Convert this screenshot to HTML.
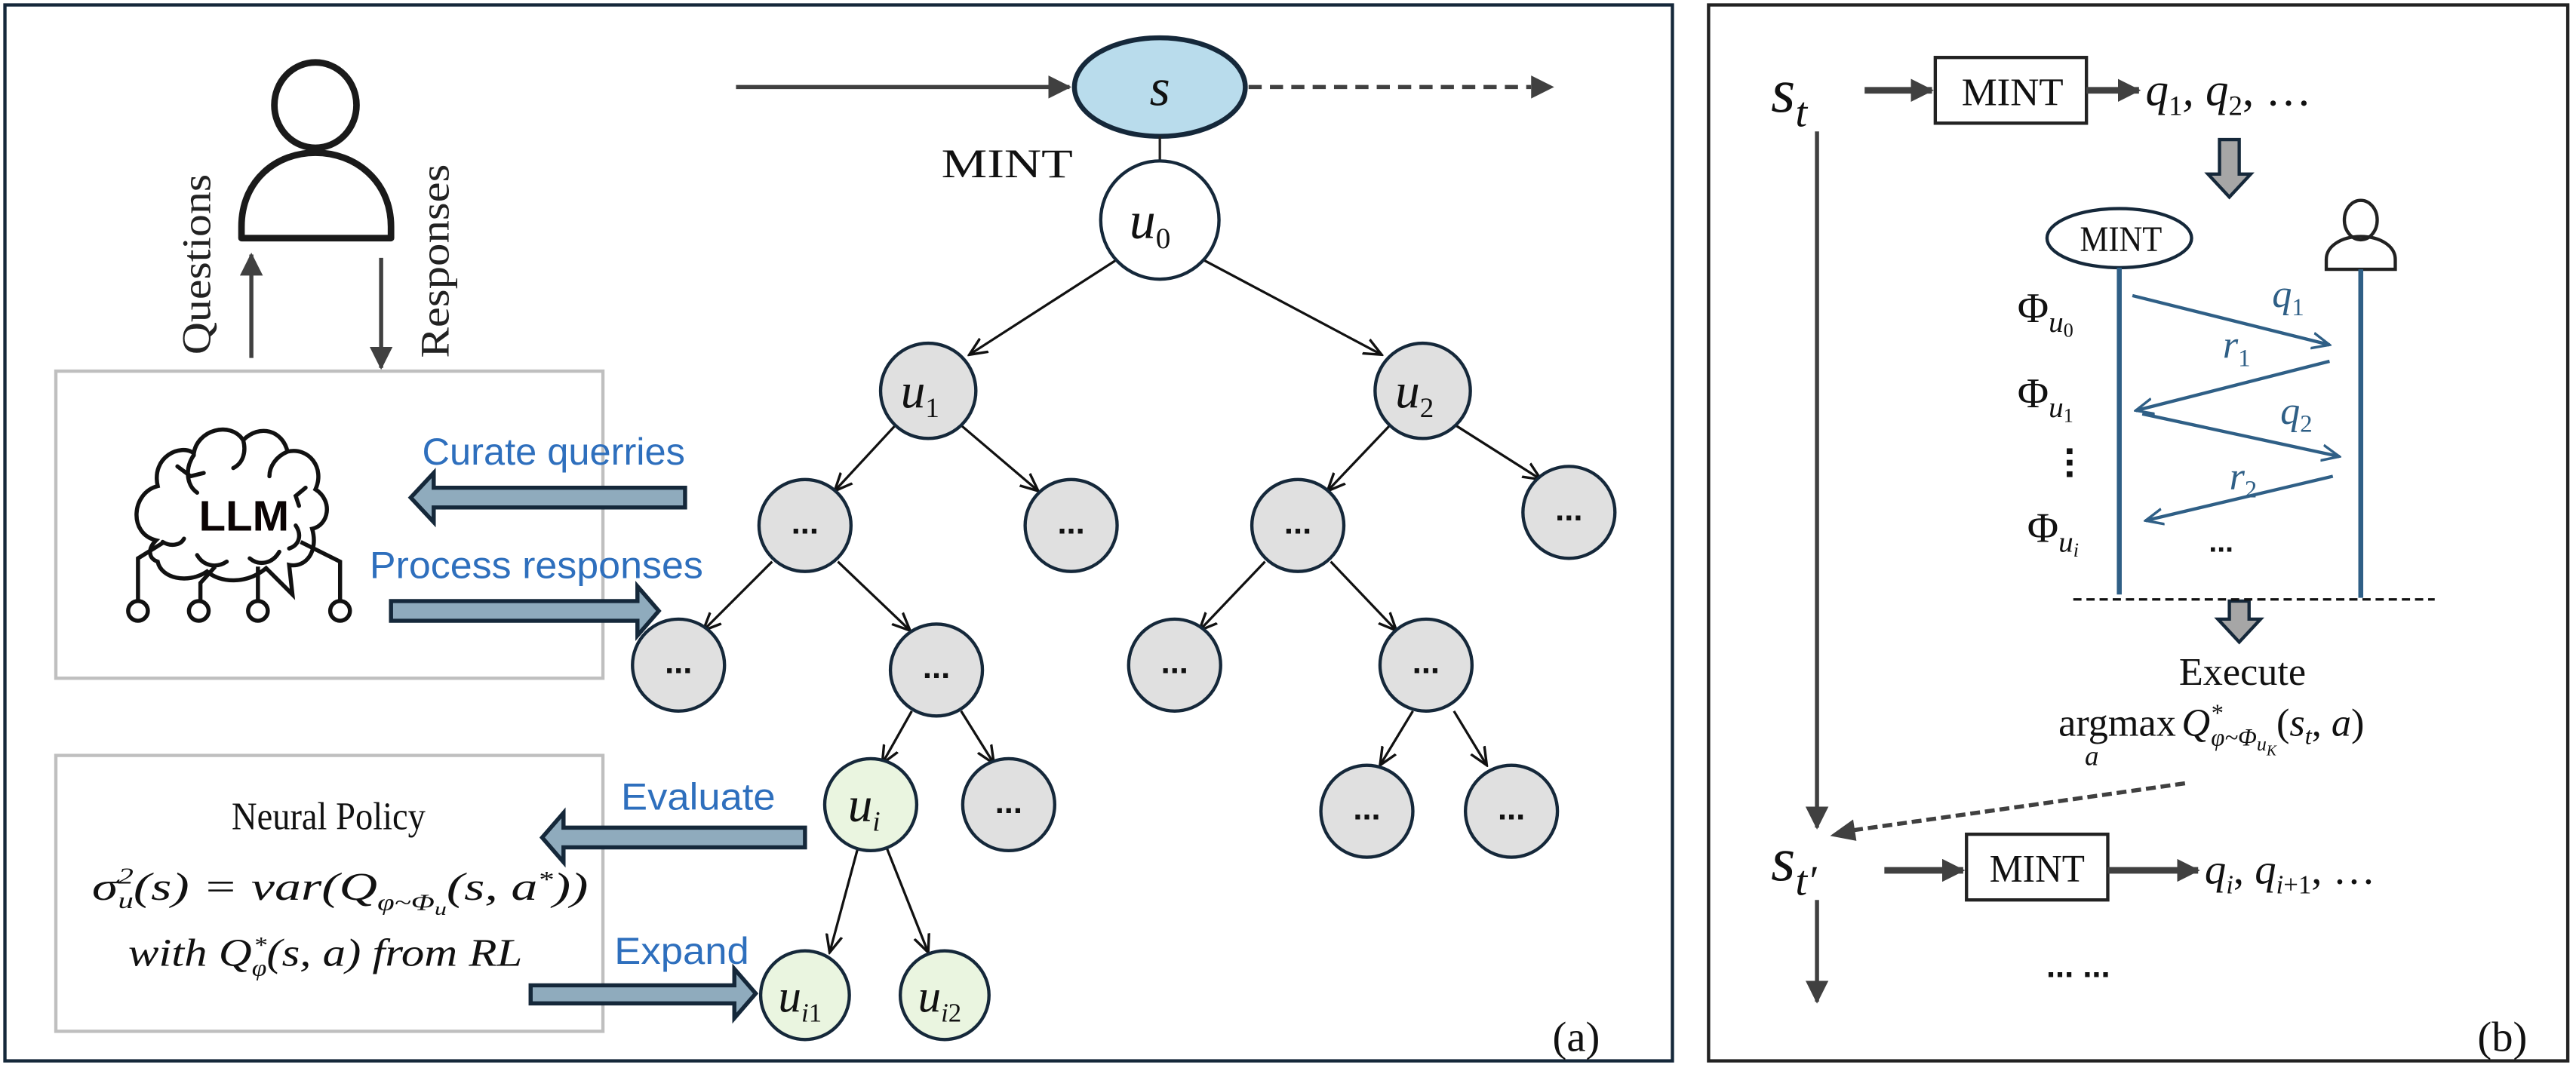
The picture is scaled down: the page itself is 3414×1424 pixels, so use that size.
<!DOCTYPE html>
<html><head><meta charset="utf-8"><style>
html,body{margin:0;padding:0;background:#fff;}
svg{display:block;}
.serif{font-family:"Liberation Serif","DejaVu Serif",serif;}
.it{font-family:"Liberation Serif","DejaVu Serif",serif;font-style:italic;}
.blue{font-family:"Liberation Sans","DejaVu Sans",sans-serif;fill:#2e6fbd;}
</style></head><body>
<svg width="3414" height="1424" viewBox="0 0 1568 654" preserveAspectRatio="none" xmlns="http://www.w3.org/2000/svg">
<defs>
<marker id="ahb" viewBox="0 0 12 12" refX="11" refY="6" markerWidth="14" markerHeight="14" orient="auto" markerUnits="userSpaceOnUse"><path d="M0,0 L12,6 L0,12 z" fill="#404040"/></marker>
<marker id="ahs" viewBox="0 0 10 10" refX="9" refY="5" markerWidth="12" markerHeight="12" orient="auto" markerUnits="userSpaceOnUse"><path d="M0,1 L9,5 L0,9" fill="none" stroke="#111" stroke-width="1.3"/></marker>
<marker id="ahl" viewBox="0 0 10 10" refX="9" refY="5" markerWidth="12" markerHeight="12" orient="auto" markerUnits="userSpaceOnUse"><path d="M0,1 L9,5 L0,9" fill="none" stroke="#2f5f86" stroke-width="1.3"/></marker>
</defs>
<rect width="1568" height="654" fill="#fff"/>
<rect x="3" y="3" width="1015" height="643" fill="none" stroke="#15283a" stroke-width="2"/>
<rect x="1040" y="3" width="523" height="643" fill="none" stroke="#222" stroke-width="2"/>

<!-- person -->
<ellipse cx="192" cy="64" rx="25" ry="26" fill="none" stroke="#1a1a1a" stroke-width="4"/>
<path d="M147,145 L147,138 C147,110 168,93 192,93 C216,93 238,110 238,138 L238,145 Z" fill="none" stroke="#1a1a1a" stroke-width="4" stroke-linejoin="round"/>
<line x1="153" y1="218" x2="153" y2="155" stroke="#404040" stroke-width="2.5" marker-end="url(#ahb)"/>
<line x1="232" y1="157" x2="232" y2="224" stroke="#404040" stroke-width="2.5" marker-end="url(#ahb)"/>
<text class="serif" font-size="25" transform="translate(128,216) rotate(-90)" textLength="110" lengthAdjust="spacingAndGlyphs" fill="#222">Questions</text>
<text class="serif" font-size="25" transform="translate(273,218) rotate(-90)" textLength="118" lengthAdjust="spacingAndGlyphs" fill="#222">Responses</text>

<rect x="34" y="226" width="333" height="187" fill="none" stroke="#bfbfbf" stroke-width="2"/>
<g fill="none" stroke="#111" stroke-width="2.5" stroke-linecap="round">
<path d="M95,329 C78,325 80,300 96,296 C92,278 110,270 118,276 C120,262 140,256 148,268 C158,258 172,262 175,275 C188,272 198,285 192,298 C203,305 200,320 190,322 C194,336 186,346 176,344 L178,362 L162,346 C150,356 134,355 126,348 C114,356 98,352 96,342 C90,340 90,334 95,329 Z"/>
<path d="M118,277 C112,286 114,296 120,300"/>
<path d="M148,268 C150,275 148,282 142,285"/>
<path d="M175,275 C168,278 164,284 164,290"/>
<path d="M108,284 L116,290 L124,288"/>
<path d="M186,297 L180,302 L182,308"/>
<path d="M120,338 C124,345 132,346 138,342"/>
<path d="M152,340 C158,345 166,343 170,336"/>
<path d="M180,320 C184,326 182,332 176,334"/>
<path d="M99,330 C104,333 110,332 112,328"/>
</g>
<text x="121" y="323" font-family="Liberation Sans,DejaVu Sans,sans-serif" font-weight="bold" font-size="26" fill="#0b0404" textLength="55" lengthAdjust="spacingAndGlyphs">LLM</text>
<g fill="none" stroke="#111" stroke-width="2.5">
<polyline points="100,330 84,340 84,366"/>
<polyline points="131,345 122,355 122,366"/>
<line x1="157" y1="345" x2="157" y2="366"/>
<polyline points="183,330 207,342 207,366"/>
<circle cx="84" cy="372" r="6"/><circle cx="121" cy="372" r="6"/><circle cx="157" cy="372" r="6"/><circle cx="207" cy="372" r="6"/>
</g>

<rect x="34" y="460" width="333" height="168" fill="none" stroke="#bfbfbf" stroke-width="2"/>
<text class="serif" x="141" y="505" font-size="24" fill="#111" textLength="118" lengthAdjust="spacingAndGlyphs">Neural Policy</text>
<text class="it" x="56" y="548" font-size="24" fill="#111" textLength="302" lengthAdjust="spacingAndGlyphs">σ<tspan font-size="14" dy="5">u</tspan><tspan font-size="14" dx="-7" dy="-15">2</tspan><tspan dy="10">(s) = var(Q</tspan><tspan font-size="14" dy="6">φ~Φ</tspan><tspan font-size="11" dy="3">u</tspan><tspan dy="-9">(s, a</tspan><tspan font-size="14" dy="-8">*</tspan><tspan dy="8">))</tspan></text>
<text class="it" x="78" y="588" font-size="24" fill="#111" textLength="240" lengthAdjust="spacingAndGlyphs">with Q<tspan font-size="14" dy="6">φ</tspan><tspan font-size="14" dx="-7" dy="-14">*</tspan><tspan dy="8">(s, a) from RL</tspan></text>

<g fill="#8fabbd" stroke="#15283a" stroke-width="2.5">
<path d="M417,297 L264,297 L264,288 L250,303 L264,318 L264,309 L417,309 Z"/>
<path d="M238,366 L388,366 L388,357 L401,372 L388,387 L388,378 L238,378 Z"/>
<path d="M490,504 L343,504 L343,495 L330,510 L343,525 L343,516 L490,516 Z"/>
<path d="M323,600 L447,600 L447,590 L460,605 L447,620 L447,611 L323,611 Z"/>
</g>
<text class="blue" x="257" y="283" font-size="23" textLength="160" lengthAdjust="spacingAndGlyphs">Curate querries</text>
<text class="blue" x="225" y="352" font-size="23" textLength="203" lengthAdjust="spacingAndGlyphs">Process responses</text>
<text class="blue" x="378" y="493" font-size="23" textLength="94" lengthAdjust="spacingAndGlyphs">Evaluate</text>
<text class="blue" x="374" y="587" font-size="23" textLength="82" lengthAdjust="spacingAndGlyphs">Expand</text>

<line x1="448" y1="53" x2="651" y2="53" stroke="#404040" stroke-width="2.5" marker-end="url(#ahb)"/>
<line x1="760" y1="53" x2="932" y2="53" stroke="#404040" stroke-width="2.5" stroke-dasharray="8,5"/>
<path d="M932,46 L946,53 L932,60 z" fill="#404040"/>
<ellipse cx="706" cy="53" rx="52" ry="30" fill="#b9dcec" stroke="#15283a" stroke-width="3"/>
<text class="it" x="706" y="64" font-size="32" text-anchor="middle" fill="#111">s</text>
<text class="serif" x="573" y="108" font-size="25" fill="#111" textLength="80" lengthAdjust="spacingAndGlyphs">MINT</text>
<line x1="706" y1="83" x2="706" y2="98" stroke="#222" stroke-width="1.5"/>

<g stroke="#111" stroke-width="1.5" marker-end="url(#ahs)">
<line x1="680" y1="158" x2="590" y2="216"/>
<line x1="732" y1="158" x2="841" y2="216"/>
<line x1="545" y1="259" x2="508" y2="299"/>
<line x1="585" y1="259" x2="632" y2="299"/>
<line x1="846" y1="259" x2="808" y2="299"/>
<line x1="886" y1="259" x2="938" y2="292"/>
<line x1="470" y1="342" x2="428" y2="384"/>
<line x1="510" y1="342" x2="554" y2="384"/>
<line x1="770" y1="342" x2="730" y2="384"/>
<line x1="810" y1="342" x2="850" y2="384"/>
<line x1="555" y1="433" x2="537" y2="465"/>
<line x1="585" y1="433" x2="605" y2="465"/>
<line x1="860" y1="433" x2="840" y2="466"/>
<line x1="885" y1="433" x2="905" y2="466"/>
<line x1="522" y1="517" x2="505" y2="580"/>
<line x1="540" y1="517" x2="565" y2="580"/>
</g>

<g stroke="#15283a" stroke-width="2">
<circle cx="706" cy="134" r="36" fill="#fff"/>
<circle cx="565" cy="238" r="29" fill="#e0e0e0"/>
<circle cx="866" cy="238" r="29" fill="#e0e0e0"/>
<circle cx="490" cy="320" r="28" fill="#e0e0e0"/>
<circle cx="652" cy="320" r="28" fill="#e0e0e0"/>
<circle cx="790" cy="320" r="28" fill="#e0e0e0"/>
<circle cx="955" cy="312" r="28" fill="#e0e0e0"/>
<circle cx="413" cy="405" r="28" fill="#e0e0e0"/>
<circle cx="570" cy="408" r="28" fill="#e0e0e0"/>
<circle cx="715" cy="405" r="28" fill="#e0e0e0"/>
<circle cx="868" cy="405" r="28" fill="#e0e0e0"/>
<circle cx="530" cy="490" r="28" fill="#eaf5e0"/>
<circle cx="614" cy="490" r="28" fill="#e0e0e0"/>
<circle cx="832" cy="494" r="28" fill="#e0e0e0"/>
<circle cx="920" cy="494" r="28" fill="#e0e0e0"/>
<circle cx="490" cy="606" r="27" fill="#eaf5e0"/>
<circle cx="575" cy="606" r="27" fill="#eaf5e0"/>
</g>
<g class="it" fill="#111" text-anchor="middle">
<text x="700" y="145" font-size="32">u<tspan font-size="18" font-style="normal" dy="6">0</tspan></text>
<text x="560" y="248" font-size="30">u<tspan font-size="17" font-style="normal" dy="6">1</tspan></text>
<text x="861" y="248" font-size="30">u<tspan font-size="17" font-style="normal" dy="6">2</tspan></text>
<text x="526" y="500" font-size="30">u<tspan font-size="17" dy="6">i</tspan></text>
<text x="487" y="616" font-size="28">u<tspan font-size="16" dy="6">i<tspan font-style="normal">1</tspan></tspan></text>
<text x="572" y="616" font-size="28">u<tspan font-size="16" dy="6">i<tspan font-style="normal">2</tspan></tspan></text>
</g>
<g font-family="Liberation Sans,DejaVu Sans,sans-serif" font-weight="bold" font-size="20" fill="#111" text-anchor="middle">
<text x="490" y="325">...</text><text x="652" y="325">...</text><text x="790" y="325">...</text><text x="955" y="317">...</text>
<text x="413" y="410">...</text><text x="570" y="413">...</text><text x="715" y="410">...</text><text x="868" y="410">...</text>
<text x="614" y="495">...</text><text x="832" y="499">...</text><text x="920" y="499">...</text>
</g>
<text class="serif" x="945" y="640" font-size="26" fill="#111">(a)</text>

<!-- right panel -->
<text class="it" x="1078" y="68" font-size="38" fill="#111">s<tspan font-size="26" dy="9">t</tspan></text>
<line x1="1135" y1="55" x2="1176" y2="55" stroke="#404040" stroke-width="4" marker-end="url(#ahb)"/>
<rect x="1178" y="35" width="92" height="40" fill="#fff" stroke="#222" stroke-width="2"/>
<text class="serif" x="1194" y="64" font-size="24" fill="#111" textLength="62" lengthAdjust="spacingAndGlyphs">MINT</text>
<line x1="1270" y1="55" x2="1302" y2="55" stroke="#404040" stroke-width="4" marker-end="url(#ahb)"/>
<text class="it" x="1306" y="64" font-size="28" fill="#111">q<tspan font-size="17" font-style="normal" dy="6">1</tspan><tspan dy="-6">, q</tspan><tspan font-size="17" font-style="normal" dy="6">2</tspan><tspan dy="-6" font-style="normal">, …</tspan></text>

<line x1="1106" y1="80" x2="1106" y2="504" stroke="#404040" stroke-width="2.5" marker-end="url(#ahb)"/>
<line x1="1106" y1="548" x2="1106" y2="610" stroke="#404040" stroke-width="2.5" marker-end="url(#ahb)"/>

<path d="M1351,85 L1363,85 L1363,106 L1370,106 L1357,120 L1344,106 L1351,106 Z" fill="#a6a6a6" stroke="#15283a" stroke-width="2"/>
<path d="M1357,366 L1369,366 L1369,377 L1376,377 L1363,391 L1350,377 L1357,377 Z" fill="#a6a6a6" stroke="#15283a" stroke-width="2"/>

<ellipse cx="1290" cy="145" rx="44" ry="18" fill="#fff" stroke="#15283a" stroke-width="2"/>
<text class="serif" x="1266" y="153" font-size="22" fill="#111" textLength="50" lengthAdjust="spacingAndGlyphs">MINT</text>
<line x1="1290" y1="163" x2="1290" y2="362" stroke="#2f5f86" stroke-width="3"/>
<ellipse cx="1437" cy="134" rx="10" ry="12" fill="none" stroke="#222" stroke-width="2"/>
<path d="M1416,164 L1416,158 C1416,150 1425,144 1437,144 C1449,144 1458,150 1458,158 L1458,164 Z" fill="none" stroke="#222" stroke-width="2"/>
<line x1="1437" y1="164" x2="1437" y2="364" stroke="#2f5f86" stroke-width="3"/>

<g stroke="#2f5f86" stroke-width="2" marker-end="url(#ahl)">
<line x1="1298" y1="180" x2="1418" y2="210"/>
<line x1="1418" y1="220" x2="1300" y2="250"/>
<line x1="1304" y1="252" x2="1424" y2="278"/>
<line x1="1420" y1="290" x2="1306" y2="317"/>
</g>
<g class="it" fill="#2f5f86" font-size="24">
<text x="1383" y="187">q<tspan font-size="15" font-style="normal" dy="5">1</tspan></text>
<text x="1353" y="218">r<tspan font-size="15" font-style="normal" dy="5">1</tspan></text>
<text x="1388" y="258">q<tspan font-size="15" font-style="normal" dy="5">2</tspan></text>
<text x="1357" y="298">r<tspan font-size="15" font-style="normal" dy="5">2</tspan></text>
</g>
<g class="serif" fill="#111" font-size="26">
<text x="1228" y="196">Φ<tspan class="it" font-size="18" dy="6">u</tspan><tspan font-size="12" dy="3">0</tspan></text>
<text x="1228" y="248">Φ<tspan class="it" font-size="18" dy="6">u</tspan><tspan font-size="12" dy="3">1</tspan></text>
<text x="1234" y="330">Φ<tspan class="it" font-size="18" dy="6">u</tspan><tspan class="it" font-size="12" dy="3">i</tspan></text>
</g>
<rect x="1258" y="273" width="3.5" height="3.5" fill="#111"/><rect x="1258" y="280" width="3.5" height="3.5" fill="#111"/><rect x="1258" y="287" width="3.5" height="3.5" fill="#111"/>
<text x="1352" y="336" font-family="Liberation Sans,sans-serif" font-weight="bold" font-size="18" fill="#111" text-anchor="middle">...</text>
<line x1="1262" y1="365" x2="1482" y2="365" stroke="#111" stroke-width="1.5" stroke-dasharray="5,3"/>

<text class="serif" x="1365" y="417" font-size="24" text-anchor="middle" fill="#111">Execute</text>
<text class="serif" x="1253" y="448" font-size="24" fill="#111">argmax</text>
<text class="it" x="1269" y="466" font-size="17" fill="#111">a</text>
<text class="it" x="1328" y="448" font-size="24" fill="#111">Q<tspan font-size="15" dy="-9">*</tspan><tspan font-size="15" dx="-7" dy="15">φ~Φ</tspan><tspan font-size="12" dy="3">u</tspan><tspan font-size="9" dy="3">K</tspan><tspan font-style="normal" dy="-12">(</tspan>s<tspan font-size="15" dy="5">t</tspan><tspan font-style="normal" dy="-5">, </tspan>a<tspan font-style="normal">)</tspan></text>

<line x1="1330" y1="477" x2="1125" y2="506" stroke="#404040" stroke-width="2.5" stroke-dasharray="6,3"/>
<path d="M1114,509 L1128,499 L1130,512 z" fill="#404040"/>

<text class="it" x="1078" y="536" font-size="38" fill="#111">s<tspan font-size="26" dy="9">t′</tspan></text>
<line x1="1147" y1="530" x2="1195" y2="530" stroke="#404040" stroke-width="4" marker-end="url(#ahb)"/>
<rect x="1197" y="508" width="86" height="40" fill="#fff" stroke="#222" stroke-width="2"/>
<text class="serif" x="1211" y="537" font-size="24" fill="#111" textLength="58" lengthAdjust="spacingAndGlyphs">MINT</text>
<line x1="1283" y1="530" x2="1338" y2="530" stroke="#404040" stroke-width="4" marker-end="url(#ahb)"/>
<text class="it" x="1342" y="538" font-size="26" fill="#111">q<tspan font-size="16" dy="6">i</tspan><tspan dy="-6" font-style="normal">, </tspan>q<tspan font-size="16" dy="6">i<tspan font-style="normal">+1</tspan></tspan><tspan dy="-6" font-style="normal">, …</tspan></text>
<text x="1265" y="595" font-family="Liberation Sans,sans-serif" font-weight="bold" font-size="20" fill="#111" text-anchor="middle">... ...</text>
<text class="serif" x="1508" y="640" font-size="26" fill="#111">(b)</text>
</svg>
</body></html>
